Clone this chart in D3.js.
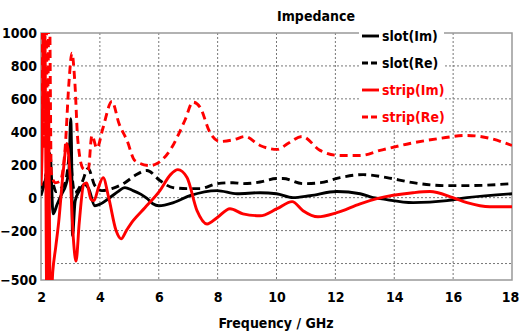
<!DOCTYPE html>
<html><head><meta charset="utf-8">
<script src="https://cdn.jsdelivr.net/npm/d3@7"></script>
<style>
body{margin:0;background:#fff;}
text{font-family:"DejaVu Sans Condensed","DejaVu Sans",sans-serif;font-stretch:condensed;font-weight:bold;}
</style></head>
<body><svg id="c" width="519" height="335"></svg>
<script>
const xTicks=[2,4,6,8,10,12,14,16,18];
const yTickLabels=[1000,800,600,400,200,0,-200,-500];
const yGrid=[800,600,400,200,0,-200,-400];
const seriesNames=["slot(Im)","slot(Re)","strip(Im)","strip(Re)"];

const slotImF=[2.0,2.15,2.31,2.41,2.55,2.7,2.85,2.95,3.01,3.05,3.07,3.16,3.3,3.48,3.62,3.83,4.0,4.3,4.6,4.85,5.1,5.4,5.6,5.8,6.0,6.5,7.06,7.98,8.66,9.44,10.0,10.56,11.14,12.05,12.84,13.28,13.52,14.64,15.79,16.47,18];
const slotImV=[12,110,268,-98,-40,20,80,170,480,100,-230,-20,40,80,55,-49,-40,-5,35,61,45,20,-5,-37,-49,-30,12,43,24,30,24,0,12,37,24,0,-6,-30,-18,0,24];

const slotReF=[2.0,2.1,2.24,2.4,2.51,2.7,2.82,2.92,3.0,3.05,3.15,3.39,3.6,3.83,4.07,4.41,4.85,5.19,5.6,6.04,6.48,6.96,7.4,7.98,8.52,8.86,9.44,10.0,10.22,10.9,11.5,12.16,12.94,13.75,14.64,15.79,16.47,18];
const slotReV=[55,90,177,90,37,60,91,195,350,150,30,91,177,73,43,55,91,134,165,104,61,55,55,85,91,85,95,116,116,85,91,122,140,122,91,73,73,85];

const stripImF=[2.0,2.04,2.08,2.14,2.2,2.25,2.32,2.4,2.5,2.6,2.75,2.88,3.0,3.1,3.19,3.3,3.45,3.55,3.7,3.8,3.95,4.11,4.3,4.55,4.72,4.9,5.13,5.53,6.04,6.4,6.65,6.96,7.3,7.64,7.98,8.42,8.86,9.44,10.02,10.53,10.9,11.41,12.05,12.84,13.41,14.64,15.21,15.99,16.47,17.25,18];
const stripImV=[73,300,1100,800,-700,600,-700,-450,-300,-150,150,329,100,-250,-385,-150,80,90,-10,-18,60,122,0,-200,-250,-200,-140,-61,43,140,170,122,-79,-160,-122,-67,-98,-110,-67,-24,-79,-116,-91,-37,-6,30,37,0,-30,-55,-55];

const stripReF=[2.0,2.05,2.1,2.16,2.22,2.28,2.35,2.48,2.65,2.82,2.95,3.05,3.15,3.25,3.43,3.6,3.73,3.9,4.1,4.41,4.65,4.92,5.19,5.7,5.94,6.38,6.89,7.16,7.4,7.74,8.08,8.59,8.93,9.44,10.02,10.4,10.87,11.48,12.16,12.84,13.52,14.53,15.55,16.47,17.25,18];
const stripReV=[330,1300,300,1300,500,1300,150,91,100,300,700,878,700,350,177,165,378,300,420,585,450,348,225,195,207,287,470,580,550,396,341,354,372,317,293,330,372,287,256,256,287,329,360,378,360,317];

const svg=d3.select("#c");
const L=41,R=512,T=33,B=280;
const x=d3.scaleLinear().domain([2,18]).range([L,R]);
const y=d3.scaleLinear().domain([-500,1000]).range([B,T]);

svg.append("defs").append("clipPath").attr("id","clip").append("rect")
  .attr("x",L).attr("y",T).attr("width",R-L).attr("height",B-T);

// grid
const g=svg.append("g");
g.selectAll(".gy").data(yGrid).join("line")
  .attr("x1",L).attr("x2",R).attr("y1",d=>y(d)).attr("y2",d=>y(d))
  .attr("stroke","#777").attr("stroke-width",1).attr("stroke-dasharray","2,2");
g.selectAll(".gx").data(xTicks.slice(1,-1)).join("line")
  .attr("y1",T).attr("y2",B).attr("x1",d=>x(d)).attr("x2",d=>x(d))
  .attr("stroke","#777").attr("stroke-width",1).attr("stroke-dasharray","2,2");

// frame
svg.append("rect").attr("x",L).attr("y",T).attr("width",R-L).attr("height",B-T)
  .attr("fill","none").attr("stroke","#999").attr("stroke-width",1.5);

// lines
const line=d3.line().x(d=>x(d[0])).y(d=>y(d[1])).curve(d3.curveMonotoneX);
const zip=(f,v)=>f.map((a,i)=>[a,v[i]]);
const series=[
 {d:zip(slotReF,slotReV),c:"#000",dash:"8,5"},
 {d:zip(slotImF,slotImV),c:"#000",dash:null},
 {d:zip(stripImF,stripImV),c:"#ff0000",dash:null},
 {d:zip(stripReF,stripReV),c:"#ff0000",dash:"8,5"}
];
const lg=svg.append("g").attr("clip-path","url(#clip)");
series.forEach(s=>{
  lg.append("path").attr("d",line(s.d)).attr("fill","none")
    .attr("stroke",s.c).attr("stroke-width",2.9)
    .attr("stroke-dasharray",s.dash);
});

// axes labels
const xAxis=d3.axisBottom(x).tickValues(xTicks).tickSize(0).tickFormat(d3.format("d"));
const xa=svg.append("g").attr("transform",`translate(0,${B})`).call(xAxis);
xa.select(".domain").remove();
xa.selectAll("text").attr("dy","0").attr("y",22).attr("font-size",14).attr("fill","#000")
  .attr("dx",d=>d===18?-2:0)
  .style("font-family","'DejaVu Sans Condensed','DejaVu Sans',sans-serif").style("font-weight","bold");
const yAxis=d3.axisLeft(y).tickValues(yTickLabels).tickSize(0).tickFormat(d3.format("d"));
const ya=svg.append("g").attr("transform",`translate(${L},0)`).call(yAxis);
ya.select(".domain").remove();
ya.selectAll("text").attr("x",-4).attr("dy","0.35em").attr("font-size",14).attr("fill","#000")
  .style("font-family","'DejaVu Sans Condensed','DejaVu Sans',sans-serif").style("font-weight","bold");

svg.append("text").attr("x",276).attr("y",328).attr("text-anchor","middle")
  .attr("font-size",14).text("Frequency / GHz");
svg.append("text").attr("x",316).attr("y",21).attr("text-anchor","middle")
  .attr("font-size",14).text("Impedance");

// legend
const leg=svg.append("g");
leg.append("rect").attr("x",359).attr("y",26).attr("width",85).attr("height",104).attr("fill","#fff");
const legStyle=[{c:"#000",dash:null},{c:"#000",dash:"6,3"},{c:"#ff0000",dash:null},{c:"#ff0000",dash:"6,3"}];
seriesNames.forEach((n,i)=>{
  const yy=36+i*27;
  leg.append("line").attr("x1",362).attr("x2",379).attr("y1",yy).attr("y2",yy)
    .attr("stroke",legStyle[i].c).attr("stroke-width",2.9).attr("stroke-dasharray",legStyle[i].dash);
  leg.append("text").attr("x",382).attr("y",yy).attr("dy","0.35em").attr("font-size",14)
    .attr("fill",legStyle[i].c).text(n);
});
</script></body></html>
